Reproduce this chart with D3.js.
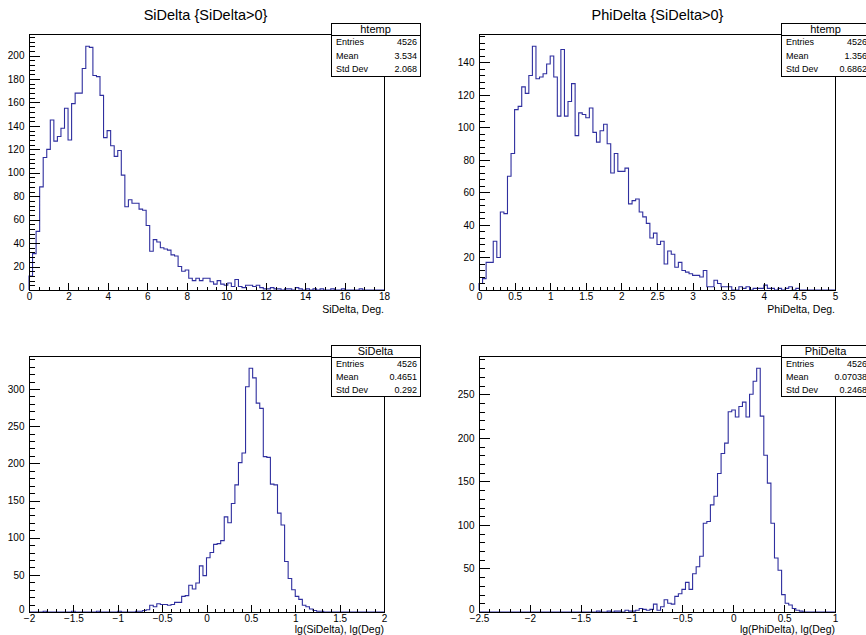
<!DOCTYPE html>
<html><head><meta charset="utf-8">
<script src="https://cdn.jsdelivr.net/npm/d3@7"></script>
<style>
body{margin:0;background:#fff;}
svg{display:block;font-family:"Liberation Sans",Arial,Helvetica,sans-serif;}
</style></head><body>
<svg id="c" width="866" height="635"></svg>
<script>
// ---------- data (100 bins each) ----------
const siDeltaCounts = [12,31,50,88,113,120,145,127,131,138,
 155,128,159,168,168,189,208,207,183,182,
 166,130,136,123,114,119,98,71,77,74,
 74,69,68,55,33,43,41,36,35,34,
 30,29,20,16,17,10,8,10,8,10,
 10,7,5,8,5,4,6,3,9,3,
 2,4,4,3,4,2,1,1,2,1,
 1,0,1,1,0,2,1,0,1,0,
 1,0,1,0,0,1,0,0,1,0,
 0,0,0,1,0,0,0,0,0,0];
const phiDeltaCounts = [4,7,17,17,30,20,48,47,70,84,
 111,113,125,121,132,150,130,131,133,139,
 144,131,107,148,107,116,127,95,109,108,
 106,112,97,91,98,102,90,72,84,73,
 73,75,53,55,56,48,45,41,32,35,
 28,30,16,24,22,14,17,12,11,10,
 9,9,8,12,2,2,6,4,2,2,
 2,0,0,2,1,2,0,1,1,1,
 3,1,1,0,1,0,1,2,0,1,
 0,0,0,0,0,0,0,0,0,0];
const lgSiDeltaCounts = [0,0,0,0,1,0,0,0,0,0,
 0,0,1,0,0,0,0,0,0,1,
 0,0,0,0,0,1,0,0,0,0,
 1,1,2,3,9,7,11,10,10,9,
 10,13,13,21,22,36,31,39,62,49,
 73,80,91,92,96,128,120,146,171,201,
 214,303,328,315,281,274,209,208,172,171,
 133,117,68,45,30,21,17,9,7,4,
 2,1,1,0,0,0,0,0,0,0,
 0,0,0,0,0,0,0,0,0,0];
const lgPhiDeltaCounts = [0,0,0,0,0,0,0,0,0,0,
 0,0,0,0,0,0,0,0,0,0,
 0,0,0,0,0,0,0,0,0,0,
 0,0,0,1,0,0,1,0,1,1,
 0,2,1,1,2,4,3,2,3,9,
 2,6,14,10,9,18,21,26,34,26,
 44,52,64,102,104,123,133,159,182,194,
 230,232,224,236,241,224,250,265,280,225,
 180,148,102,62,48,20,10,8,4,2,
 1,0,0,0,0,0,0,0,0,0];

// axis ranges and tick labels
const siDeltaRange = [0, 18];
const phiDeltaRange = [0, 5];
const lgSiDeltaRange = [-2, 2];
const lgPhiDeltaRange = [-2.5, 1];
const siDeltaXTicks = [0,2,4,6,8,10,12,14,16,18];
const phiDeltaXTicks = [0,0.5,1,1.5,2,2.5,3,3.5,4,4.5,5];
const lgSiDeltaXTicks = [-2,-1.5,-1,-0.5,0,0.5,1,1.5,2];
const lgPhiDeltaXTicks = [-2.5,-2,-1.5,-1,-0.5,0,0.5,1];
const siDeltaYTicks = [0,20,40,60,80,100,120,140,160,180,200];
const phiDeltaYTicks = [0,20,40,60,80,100,120,140];
const lgSiDeltaYTicks = [0,50,100,150,200,250,300];
const lgPhiDeltaYTicks = [0,50,100,150,200,250];

// stat boxes
const statsSi = ["htemp", [["Entries","4526"],["Mean","3.534"],["Std Dev","2.068"]]];
const statsPhi = ["htemp", [["Entries","4526"],["Mean","1.356"],["Std Dev","0.6862"]]];
const statsLgSi = ["SiDelta", [["Entries","4526"],["Mean","0.4651"],["Std Dev","0.292"]]];
const statsLgPhi = ["PhiDelta", [["Entries","4526"],["Mean","0.07038"],["Std Dev","0.2468"]]];

// ---------- layout ----------
const panels = [
 {counts: siDeltaCounts, range: siDeltaRange, xTicks: siDeltaXTicks, xMinor: 0.5, yTicks: siDeltaYTicks, yMinor: 4,
  frame: {x0:29, x1:384, y0:34, y1:290}, title: "SiDelta {SiDelta>0}", titleX: 205.5, xTitle: "SiDelta, Deg.", xTitleDy: 23,
  stats: statsSi, box: {x:331, y:23, w:89, h:53, hh:12}},
 {counts: phiDeltaCounts, range: phiDeltaRange, xTicks: phiDeltaXTicks, xMinor: 0.1, yTicks: phiDeltaYTicks, yMinor: 4,
  frame: {x0:479, x1:835, y0:34, y1:290}, title: "PhiDelta {SiDelta>0}", titleX: 657.5, xTitle: "PhiDelta, Deg.", xTitleDy: 23,
  stats: statsPhi, box: {x:781, y:23, w:89, h:53, hh:12}},
 {counts: lgSiDeltaCounts, range: lgSiDeltaRange, xTicks: lgSiDeltaXTicks, xMinor: 0.1, yTicks: lgSiDeltaYTicks, yMinor: 10,
  frame: {x0:29, x1:384, y0:356, y1:612}, title: null, xTitle: "lg(SiDelta), lg(Deg)", xTitleDy: 21,
  stats: statsLgSi, box: {x:331, y:345, w:89, h:51, hh:12}},
 {counts: lgPhiDeltaCounts, range: lgPhiDeltaRange, xTicks: lgPhiDeltaXTicks, xMinor: 0.1, yTicks: lgPhiDeltaYTicks, yMinor: 10,
  frame: {x0:479, x1:835, y0:356, y1:612}, title: null, xTitle: "lg(PhiDelta), lg(Deg)", xTitleDy: 21,
  stats: statsLgPhi, box: {x:781, y:345, w:89, h:51, hh:12}}
];

const svg = d3.select("#c");
svg.append("rect").attr("width",866).attr("height",635).attr("fill","#fff");
const fmt = d3.format("~g");
const LINE = "#2f2f9f";

function minorValues(lo, hi, step, majors) {
  const out = [];
  const start = Math.ceil(lo / step - 1e-9);
  for (let i = start; i * step <= hi + 1e-9; i++) {
    const v = +(i * step).toFixed(6);
    if (!majors.some(m => Math.abs(m - v) < 1e-9)) out.push(v);
  }
  return out;
}

panels.forEach(p => {
  const f = p.frame;
  const n = p.counts.length;
  const [xmin, xmax] = p.range;
  const bw = (xmax - xmin) / n;
  const ymax = 1.05 * d3.max(p.counts);
  const x = d3.scaleLinear().domain([xmin, xmax]).range([f.x0, f.x1]);
  const y = d3.scaleLinear().domain([0, ymax]).range([f.y1, f.y0]);
  const g = svg.append("g");

  // histogram outline
  const pts = [[xmin, 0]];
  p.counts.forEach((c, i) => pts.push([xmin + i * bw, c]));
  pts.push([xmax, p.counts[n - 1]]);
  pts.push([xmax, 0]);
  const line = d3.line().x(d => x(d[0])).y(d => y(d[1])).curve(d3.curveStepAfter);
  g.append("path").attr("d", line(pts)).attr("fill", "none")
    .attr("stroke", LINE).attr("stroke-width", 1.1);

  // frame
  g.append("rect").attr("x", f.x0 + 0.5).attr("y", f.y0 + 0.5)
    .attr("width", f.x1 - f.x0).attr("height", f.y1 - f.y0)
    .attr("fill", "none").attr("stroke", "#000").attr("stroke-width", 1)
    .attr("shape-rendering", "crispEdges");

  // y axis
  const yMinorV = minorValues(0, ymax, p.yMinor, p.yTicks);
  const ya = g.append("g").attr("transform", `translate(${f.x0 + 0.5},0)`)
    .call(d3.axisLeft(y).tickValues(p.yTicks).tickSize(-10).tickSizeOuter(0).tickPadding(5).tickFormat(fmt));
  const yb = g.append("g").attr("transform", `translate(${f.x0 + 0.5},0)`)
    .call(d3.axisLeft(y).tickValues(yMinorV).tickSize(-5).tickSizeOuter(0).tickFormat(""));
  // x axis
  const xMinorV = minorValues(xmin, xmax, p.xMinor, p.xTicks);
  const xa = g.append("g").attr("transform", `translate(0,${f.y1 + 0.5})`)
    .call(d3.axisBottom(x).tickValues(p.xTicks).tickSize(-8).tickSizeOuter(0).tickPadding(2).tickFormat(fmt));
  const xb = g.append("g").attr("transform", `translate(0,${f.y1 + 0.5})`)
    .call(d3.axisBottom(x).tickValues(xMinorV).tickSize(-4).tickSizeOuter(0).tickFormat(""));
  [ya, yb, xa, xb].forEach(a => {
    a.select(".domain").remove();
    a.selectAll("line").attr("stroke", "#000").attr("shape-rendering", "crispEdges");
    a.selectAll("text").attr("fill", "#000").style("font-size", "10px")
      .style("font-family", '"Liberation Sans",Arial,sans-serif');
  });
  // the zero label on the y axis sits slightly raised, as in ROOT
  ya.selectAll(".tick").filter(d => d === 0).select("text").attr("y", -3);

  // axis title
  g.append("text").attr("x", f.x1).attr("y", f.y1 + p.xTitleDy).attr("text-anchor", "end")
    .style("font-size", "10.5px").text(p.xTitle);

  // title
  if (p.title) {
    svg.append("text").attr("x", p.titleX).attr("y", 20).attr("text-anchor", "middle")
      .style("font-size", "14.5px").text(p.title);
  }

  // stat box
  const b = p.box;
  const sb = svg.append("g");
  sb.append("rect").attr("x", b.x + 0.5).attr("y", b.y + 0.5).attr("width", b.w).attr("height", b.h)
    .attr("fill", "#fff").attr("stroke", "#000").attr("shape-rendering", "crispEdges");
  sb.append("line").attr("x1", b.x).attr("x2", b.x + b.w).attr("y1", b.y + b.hh + 0.5).attr("y2", b.y + b.hh + 0.5)
    .attr("stroke", "#000").attr("shape-rendering", "crispEdges");
  sb.append("text").attr("x", b.x + b.w / 2).attr("y", b.y + b.hh - 2.5).attr("text-anchor", "middle")
    .style("font-size", "11px").text(p.stats[0]);
  const rowH = (b.h - b.hh) / p.stats[1].length;
  p.stats[1].forEach((r, i) => {
    const cy = b.y + b.hh + rowH * (i + 0.5);
    sb.append("text").attr("x", b.x + 5).attr("y", cy + 3.2).style("font-size", "9px").text(r[0]);
    sb.append("text").attr("x", b.x + b.w - 3).attr("y", cy + 3.2).attr("text-anchor", "end")
      .style("font-size", "9px").text(r[1]);
  });
});
</script>
</body></html>
